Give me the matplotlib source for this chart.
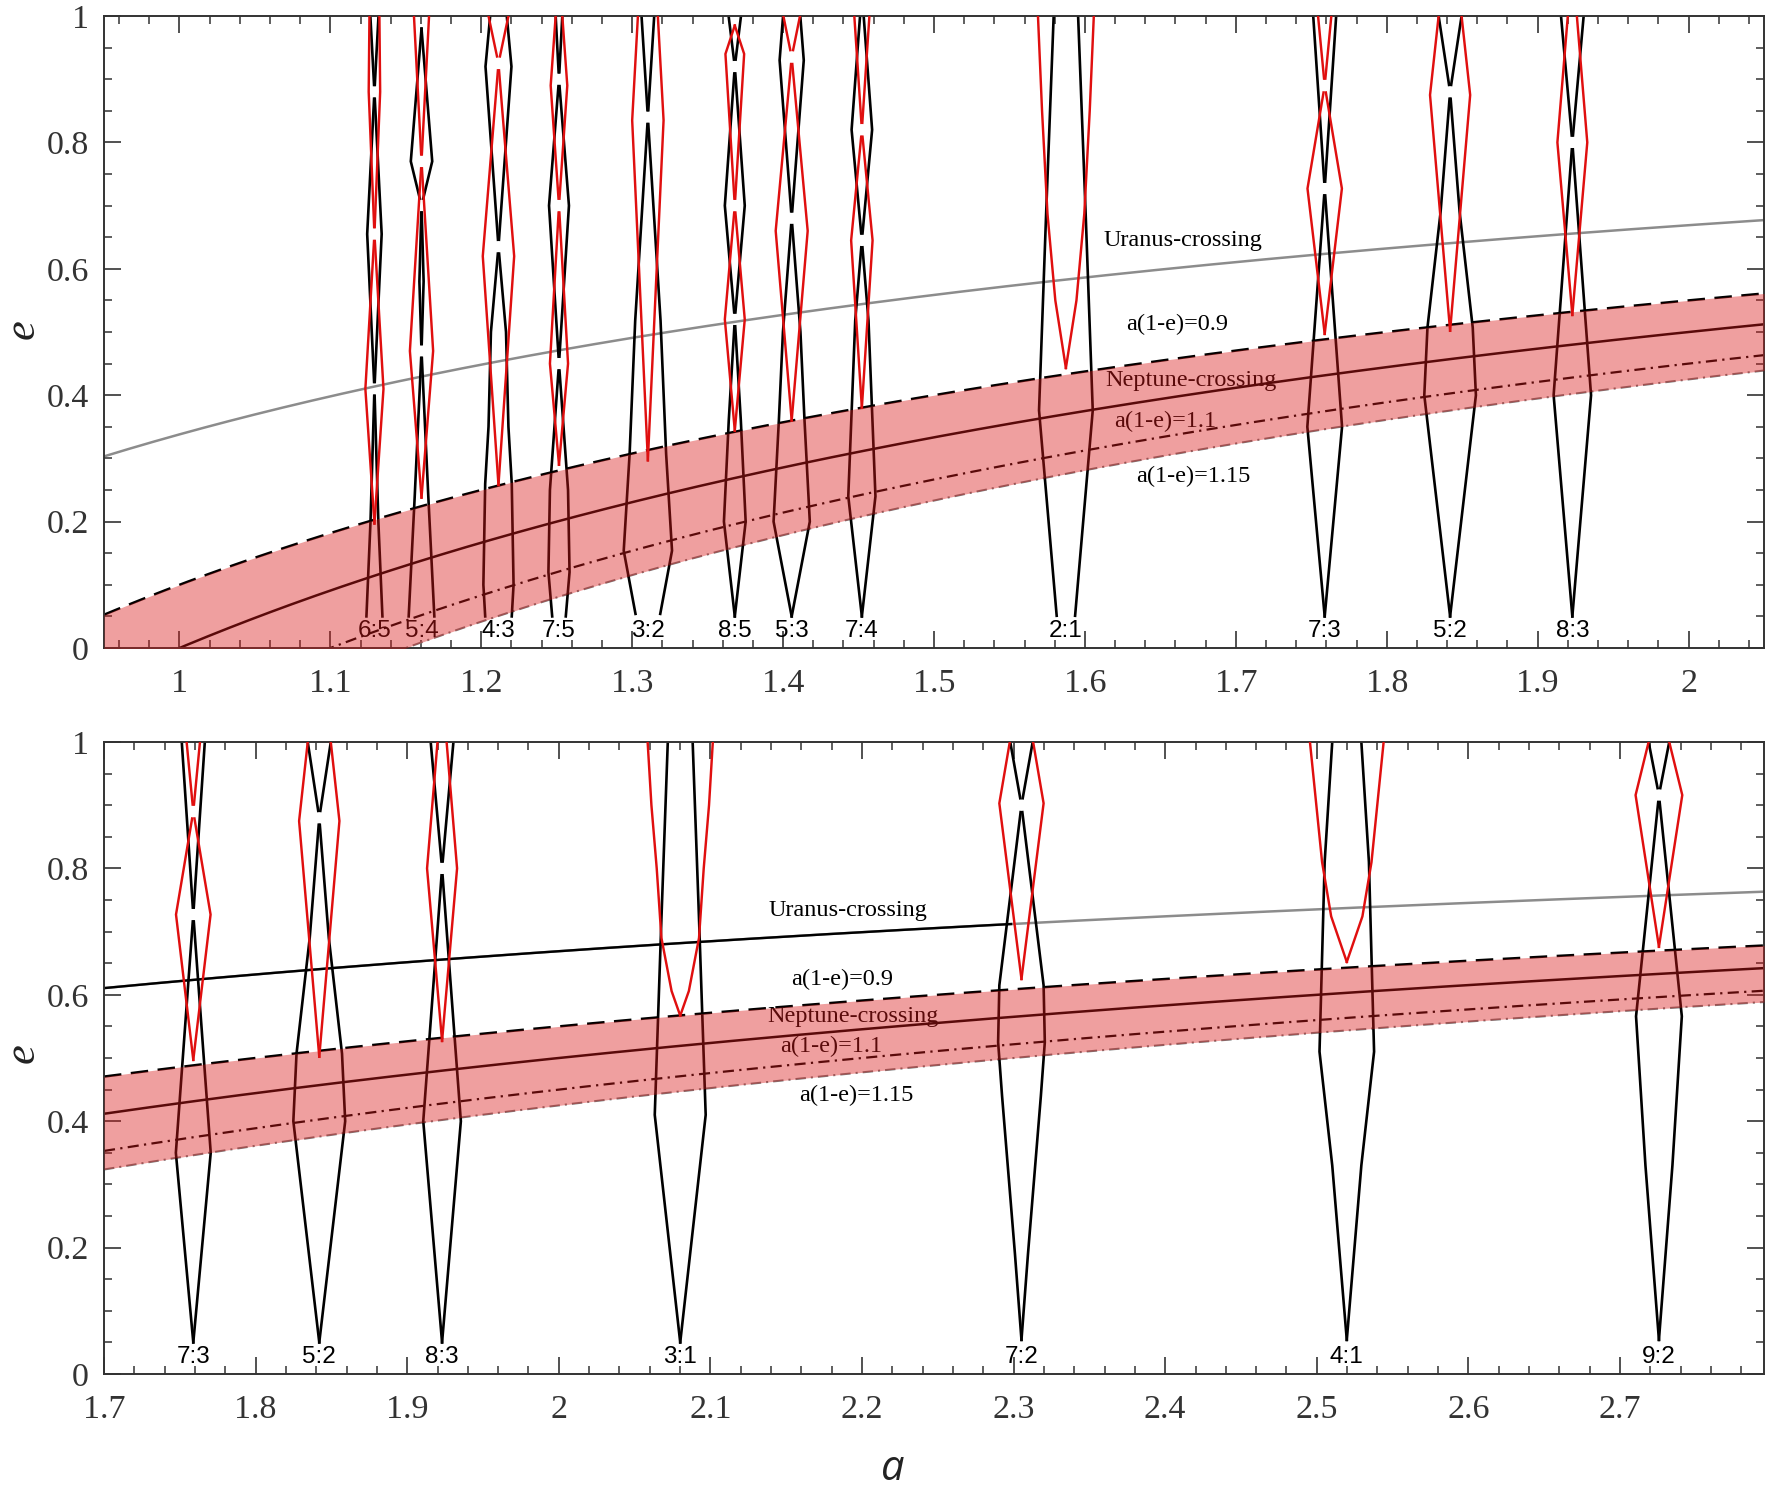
import numpy as np
import matplotlib
matplotlib.use("Agg")
import matplotlib.pyplot as plt
from matplotlib.ticker import MultipleLocator, FuncFormatter

# ---------------- data ----------------
top_xlim = (0.95, 2.05)
bot_xlim = (1.70, 2.795)

top_resonances = ['6:5', '5:4', '4:3', '7:5', '3:2', '8:5', '5:3', '7:4',
                  '2:1', '7:3', '5:2', '8:3']
bottom_resonances = ['7:3', '5:2', '8:3', '3:1', '7:2', '4:1', '9:2']

res_center = {'6:5': 1.1292, '5:4': 1.1604, '4:3': 1.2114, '7:5': 1.2515,
              '3:2': 1.3104, '8:5': 1.3680, '5:3': 1.4057, '7:4': 1.4522,
              '2:1': 1.5874, '7:3': 1.7589, '5:2': 1.8420, '8:3': 1.9230,
              '3:1': 2.0801, '7:2': 2.3052, '4:1': 2.5198, '9:2': 2.7257}

# black boundaries: eccentricity vertices and half widths (units of 1e-3)
black_e = {
    '6:5': [1.0, 0.88, 0.655, 0.41, 0.20, 0.05],
    '5:4': [0.98, 0.77, 0.70, 0.58, 0.47, 0.24, 0.05],
    '4:3': [1.0, 0.92, 0.635, 0.50, 0.35, 0.26, 0.10, 0.05],
    '7:5': [1.0, 0.90, 0.70, 0.45, 0.25, 0.12, 0.05],
    '3:2': [1.0, 0.84, 0.518, 0.307, 0.154, 0.054],
    '8:5': [1.0, 0.92, 0.70, 0.52, 0.36, 0.20, 0.05],
    '5:3': [1.0, 0.93, 0.68, 0.50, 0.36, 0.20, 0.05],
    '7:4': [1.0, 0.82, 0.645, 0.518, 0.24, 0.05],
    '2:1': [1.0, 0.687, 0.376, 0.051],
    '7:3': [1.0, 0.727, 0.35, 0.05],
    '5:2': [1.0, 0.88, 0.69, 0.507, 0.40, 0.05],
    '8:3': [1.0, 0.80, 0.40, 0.05],
    '3:1': [1.0, 0.72, 0.41, 0.05],
    '7:2': [1.0, 0.90, 0.615, 0.525, 0.44, 0.19, 0.054],
    '4:1': [1.0, 0.81, 0.51, 0.33, 0.054],
    '9:2': [1.0, 0.916, 0.566, 0.33, 0.054],
}
black_w = {
    '6:5': [2.7, 0, 4.8, 0, 2.6, 5.3],
    '5:4': [0, 7.1, 0, 1.4, 0, 4.5, 8.5],
    '4:3': [5.5, 8.6, 0, 5.0, 6.6, 8.8, 10.0, 8.8],
    '7:5': [2.2, 0, 6.6, 0, 6.0, 7.0, 4.5],
    '3:2': [4.2, 0, 8.4, 12.1, 16.0, 8.2],
    '8:5': [4.1, 0, 6.6, 0, 4.0, 7.2, 0],
    '5:3': [5.7, 8.0, 0, 5.8, 8.5, 12.0, 0],
    '7:4': [1.2, 6.8, 0, 4.4, 9.0, 0],
    '2:1': [8.1, 13.1, 17.8, 6.1],
    '7:3': [7.6, 0, 11.5, 0],
    '5:2': [7.6, 0, 6.3, 15.0, 17.1, 0],
    '8:3': [7.5, 0, 12.4, 0],
    '3:1': [8.2, 12.4, 16.8, 0],
    '7:2': [7.4, 0, 14.6, 15.4, 12.8, 4.3, 0],
    '4:1': [9.6, 14.6, 18.0, 9.6, 0],
    '9:2': [6.8, 0, 15.1, 8.9, 0],
}
# red boundaries
red_e = {
    '6:5': [1.0, 0.88, 0.655, 0.41, 0.197],
    '5:4': [1.0, 0.77, 0.47, 0.238],
    '4:3': [1.0, 0.925, 0.62, 0.258],
    '7:5': [1.0, 0.89, 0.70, 0.45, 0.29],
    '3:2': [1.0, 0.835, 0.297],
    '8:5': [0.985, 0.94, 0.70, 0.52, 0.344],
    '5:3': [1.0, 0.935, 0.66, 0.36],
    '7:4': [1.0, 0.82, 0.645, 0.38],
    '2:1': [1.0, 0.85, 0.687, 0.55, 0.443],
    '7:3': [1.0, 0.89, 0.727, 0.497],
    '5:2': [1.0, 0.875, 0.502],
    '8:3': [1.0, 0.80, 0.527],
    '3:1': [1.0, 0.9, 0.8, 0.69, 0.606, 0.567],
    '7:2': [1.0, 0.903, 0.625],
    '4:1': [1.0, 0.81, 0.724, 0.652],
    '9:2': [1.0, 0.916, 0.676],
}
red_w = {
    '6:5': [3.3, 3.8, 0, 6.0, 0],
    '5:4': [5.0, 0, 7.7, 0],
    '4:3': [6.6, 0, 10.4, 0],
    '7:5': [2.2, 5.5, 0, 6.0, 0],
    '3:2': [6.6, 10.4, 0],
    '8:5': [0, 6.2, 0, 6.6, 0],
    '5:3': [5.5, 0, 10.6, 0],
    '7:4': [5.0, 0, 7.1, 0],
    '2:1': [18.5, 15.8, 12.2, 7.0, 0],
    '7:3': [4.4, 0, 11.4, 0],
    '5:2': [7.6, 13.3, 0],
    '8:3': [3.0, 9.9, 0],
    '3:1': [21.5, 19.0, 15.5, 12.4, 5.7, 0],
    '7:2': [7.7, 14.6, 0],
    '4:1': [24.3, 16.3, 10.3, 0],
    '9:2': [6.8, 15.4, 0],
}

q_band = (0.9, 1.15)
q_dashed = 0.9
q_neptune = 1.0
q_dashdot = 1.1
q_light = 1.15
q_uranus = 0.662
uranus_black_end = 2.30

top_texts = [("Uranus-crossing", 1.665, 0.645), ("a(1-e)=0.9", 1.661, 0.512),
             ("Neptune-crossing", 1.670, 0.424), ("a(1-e)=1.1", 1.653, 0.358),
             ("a(1-e)=1.15", 1.672, 0.272)]
bot_texts = [("Uranus-crossing", 2.191, 0.734), ("a(1-e)=0.9", 2.187, 0.625),
             ("Neptune-crossing", 2.194, 0.565), ("a(1-e)=1.1", 2.180, 0.519),
             ("a(1-e)=1.15", 2.196, 0.440)]

# ---------------- drawing ----------------
SERIF = "Liberation Serif"
SANS = "Liberation Sans"
GAP = 0.011
RED = (0.88, 0.06, 0.06)


def boundary(e, w):
    e = list(e); w = list(w)
    n = len(e)
    oe, ow = [], []
    for i in range(n):
        if 0 < i < n - 1 and w[i] == 0:
            ep, wp = e[i - 1], w[i - 1]
            en, wn = e[i + 1], w[i + 1]
            ea = e[i] + GAP * np.sign(ep - e[i])
            wa = w[i] + (wp - w[i]) * (ea - e[i]) / (ep - e[i])
            eb = e[i] + GAP * np.sign(en - e[i])
            wb = w[i] + (wn - w[i]) * (eb - e[i]) / (en - e[i])
            oe += [ea, np.nan, eb]
            ow += [wa, np.nan, wb]
        else:
            oe.append(e[i]); ow.append(w[i])
    return np.array(oe), np.array(ow) * 1e-3


def draw_res(ax, name):
    c = res_center[name]
    for E, W, col, lw, z in ((black_e, black_w, 'black', 1.9, 2),
                             (red_e, red_w, RED, 1.75, 3)):
        ee, ww = boundary(E[name], W[name])
        ax.plot(c - ww, ee, color=col, lw=lw, zorder=z, solid_joinstyle='miter')
        ax.plot(c + ww, ee, color=col, lw=lw, zorder=z, solid_joinstyle='miter')
    ax.text(c, 0.027, name, fontsize=17.5, family=SANS, ha='center',
            va='center', color='black', zorder=4)


def setup(ax, xlim):
    ax.set_xlim(*xlim)
    ax.set_ylim(0, 1)
    ax.xaxis.set_major_locator(MultipleLocator(0.1))
    ax.xaxis.set_minor_locator(MultipleLocator(0.02))
    ax.yaxis.set_major_locator(MultipleLocator(0.2))
    ax.yaxis.set_minor_locator(MultipleLocator(0.05))
    fmt = FuncFormatter(lambda v, p: f"{round(v, 2):g}")
    ax.xaxis.set_major_formatter(fmt)
    ax.yaxis.set_major_formatter(fmt)
    ax.tick_params(which='both', direction='in', top=True, right=True,
                   colors='#333333')
    ax.tick_params(which='major', length=12, width=1.2)
    ax.tick_params(which='minor', length=6, width=1.1)
    ax.tick_params(axis='x', which='major', pad=15)
    ax.tick_params(axis='y', which='major', pad=11)
    for lab in ax.get_xticklabels() + ax.get_yticklabels():
        lab.set_fontfamily(SERIF)
        lab.set_fontsize(24.5)
        lab.set_color('#333333')
    for s in ax.spines.values():
        s.set_color('#333333')
        s.set_linewidth(1.4)


def draw_panel(ax, xlim, resonances, texts, uranus_black):
    a = np.linspace(xlim[0], xlim[1], 400)
    ax.plot(a, 1 - q_uranus / a, color='#8c8c8c', lw=1.8, zorder=1.5)
    if uranus_black:
        ab = a[a <= uranus_black_end]
        ax.plot(ab, 1 - q_uranus / ab, color='black', lw=1.7, zorder=1.6)
    ax.plot(a, 1 - q_dashed / a, color='black', lw=1.8, ls=(0, (7, 3.8)), zorder=2)
    ax.plot(a, 1 - q_neptune / a, color='black', lw=1.8, zorder=2)
    ax.plot(a, 1 - q_dashdot / a, color='black', lw=1.6,
            ls=(0, (5, 2.4, 1, 2.4)), zorder=2)
    ax.plot(a, 1 - q_light / a, color='#7a7a7a', lw=1.5,
            ls=(0, (5, 2.4, 1, 2.4)), zorder=2)
    for r in resonances:
        draw_res(ax, r)
    for t, x, y in texts:
        ax.text(x, y, t, fontsize=17.5, family=SERIF, ha='center', va='center',
                color='black', zorder=4)
    ax.fill_between(a, 1 - q_band[0] / a, 1 - q_band[1] / a,
                    color=(0.85, 0.10, 0.10), alpha=0.42, lw=0, zorder=5)
    setup(ax, xlim)


fig = plt.figure(figsize=(17.72, 14.92), dpi=100)
ax1 = fig.add_axes([0.05869, 0.56568, 0.93679, 0.42359])
ax2 = fig.add_axes([0.05869, 0.07909, 0.93679, 0.42359])

draw_panel(ax1, top_xlim, top_resonances, top_texts, False)
draw_panel(ax2, bot_xlim, bottom_resonances, bot_texts, True)

fig.text(0.0015, 0.7795, 'e', rotation=90, fontsize=32, family=SERIF,
         style='italic', ha='left', va='center', color='#222222')
fig.text(0.0015, 0.294, 'e', rotation=90, fontsize=32, family=SERIF,
         style='italic', ha='left', va='center', color='#222222')
fig.text(0.504, 0.0015, 'a', fontsize=30, family='Open Sans', style='italic',
         ha='center', va='bottom', color='#222222')

fig.savefig('out.png', dpi=100)
